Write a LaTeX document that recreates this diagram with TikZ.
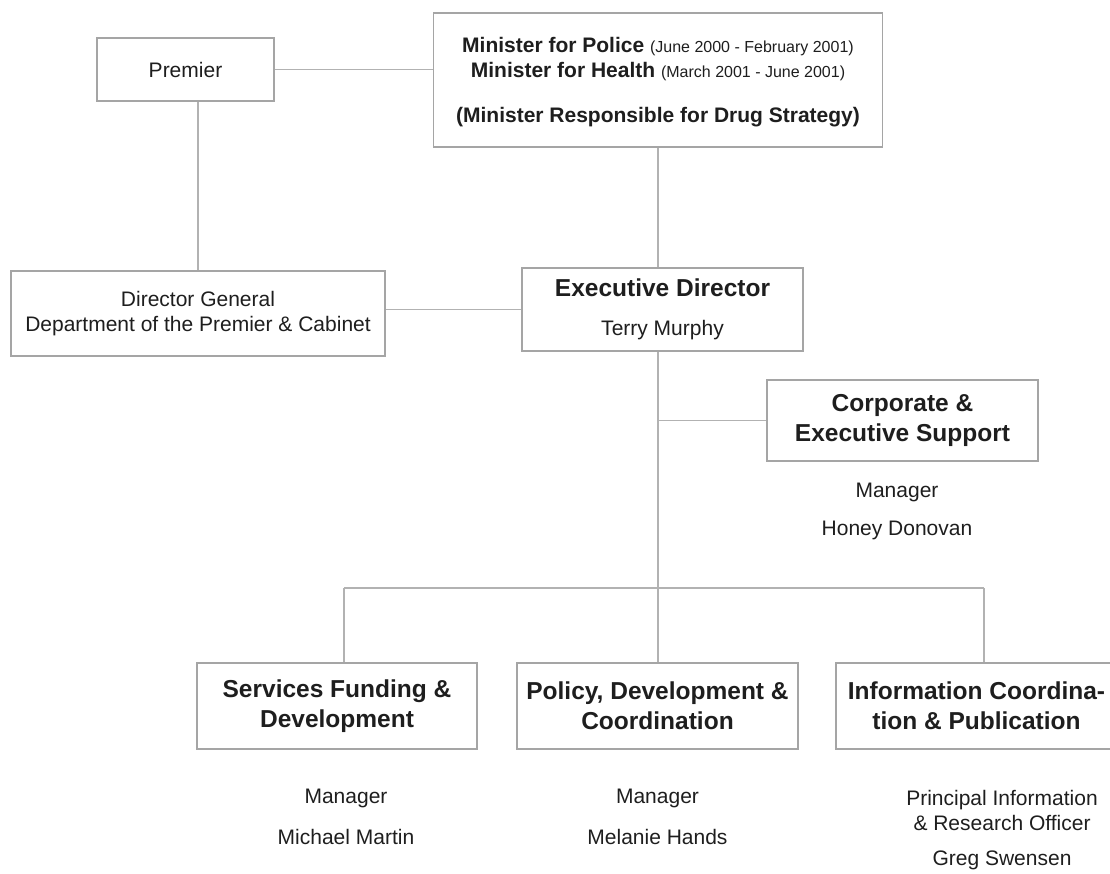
\documentclass[tikz,border=0pt]{standalone}
\usepackage{fontspec}
\setmainfont{Liberation Sans}
\usepackage{tikz}
\usetikzlibrary{positioning}
\definecolor{orgline}{RGB}{178,178,178}
\definecolor{orgedge}{RGB}{165,165,165}
\definecolor{orgtext}{RGB}{30,30,30}
\newcommand{\orgreg}{\fontsize{21}{25}\selectfont}
\newcommand{\orgsmall}{\fontsize{16}{25}\selectfont\mdseries}
\newcommand{\orghead}{\fontsize{24.5}{30}\selectfont\bfseries}
\tikzstyle{link} = [line width=1.1pt, color=orgline]
\tikzstyle{unit} = [rectangle, draw=orgedge, line width=1.2pt, fill=white, inner sep=0pt, align=center, text=orgtext, font=\orghead]
\tikzstyle{plain} = [align=center, text=orgtext, font=\orgreg, inner sep=0pt]

\begin{document}
\begin{tikzpicture}[x=1pt, y=-1pt]
\useasboundingbox (0,0) rectangle (1110,874);
\clip (0,0) rectangle (1110,874);
% Top level
\node (prem) [unit, font=\orgreg, minimum width=177pt, minimum height=63pt] at (185.5,69.5) {Premier};
\node (mini) [unit, font=\fontsize{21}{25}\selectfont\bfseries, minimum width=449pt, minimum height=134pt, text depth=0pt] at (658,80)
  {\raisebox{-3pt}{}Minister for Police {\orgsmall (June 2000 - February 2001)}\\
   Minister for Health {\orgsmall (March 2001 - June 2001)}\\[20pt]
   (Minister Responsible for Drug Strategy)};
\node (dg) [unit, font=\orgreg, minimum width=374pt, minimum height=85pt] at (198,313.5)
  {Director General\\ Department of the Premier \& Cabinet};
\node (exd) [unit, minimum width=281pt, minimum height=83pt] at (662.5,309.5)
  {Executive Director\\[9pt] {\orgreg\mdseries Terry Murphy}};

% Corporate branch
\node (ces) [unit, minimum width=271pt, minimum height=81pt] at (902.5,420.5)
  {Corporate \&\\ Executive Support};
\node (cesmgr) [plain, below of=ces, node distance=71.5pt, xshift=-5.5pt] {Manager};
\node (cesname) [plain, below of=cesmgr, node distance=38pt] {Honey Donovan};

% Bottom units
\node (sfd) [unit, minimum width=280pt, minimum height=86pt] at (337,706)
  {Services Funding \&\\ Development};
\node (pdc) [unit, minimum width=281pt, minimum height=86pt] at (657.5,706)
  {Policy, Development \&\\ Coordination};
\node (icp) [unit, minimum width=281pt, minimum height=86pt] at (976.5,706)
  {Information Coordina-\\ tion \& Publication};

\node (sfdmgr) [plain, below of=sfd, node distance=92pt, xshift=9pt] {Manager};
\node (sfdname) [plain, below of=sfdmgr, node distance=39pt] {Michael Martin};
\node (pdcmgr) [plain, below of=pdc, node distance=92pt] {Manager};
\node (pdcname) [plain, below of=pdcmgr, node distance=39pt] {Melanie Hands};
\node (icprole) [plain, below of=icp, node distance=104.5pt, xshift=25.5pt] {Principal Information\\ \& Research Officer};
\node (icpname) [plain, below of=icprole, node distance=49.5pt] {Greg Swensen};

% Connectors
\coordinate (bus) at (658,588);
\coordinate (busl) at (344,588);
\coordinate (busr) at (984,588);
\draw[link] (prem.east) -- (prem.east -| mini.west);
\draw[link] (dg.north) -- (dg.north |- prem.south);
\draw[link] (mini.south) -- (mini.south |- exd.north);
\draw[link] (exd.west -| dg.east) -- (exd.west);
\draw[link] (bus |- exd.south) -- (bus);
\draw[link] (ces.west) -- (ces.west -| bus);
\draw[link] (busl) -- (busr);
\draw[link] (busl) -- (busl |- sfd.north);
\draw[link] (bus) -- (bus |- pdc.north);
\draw[link] (busr) -- (busr |- icp.north);
\end{tikzpicture}
\end{document}
